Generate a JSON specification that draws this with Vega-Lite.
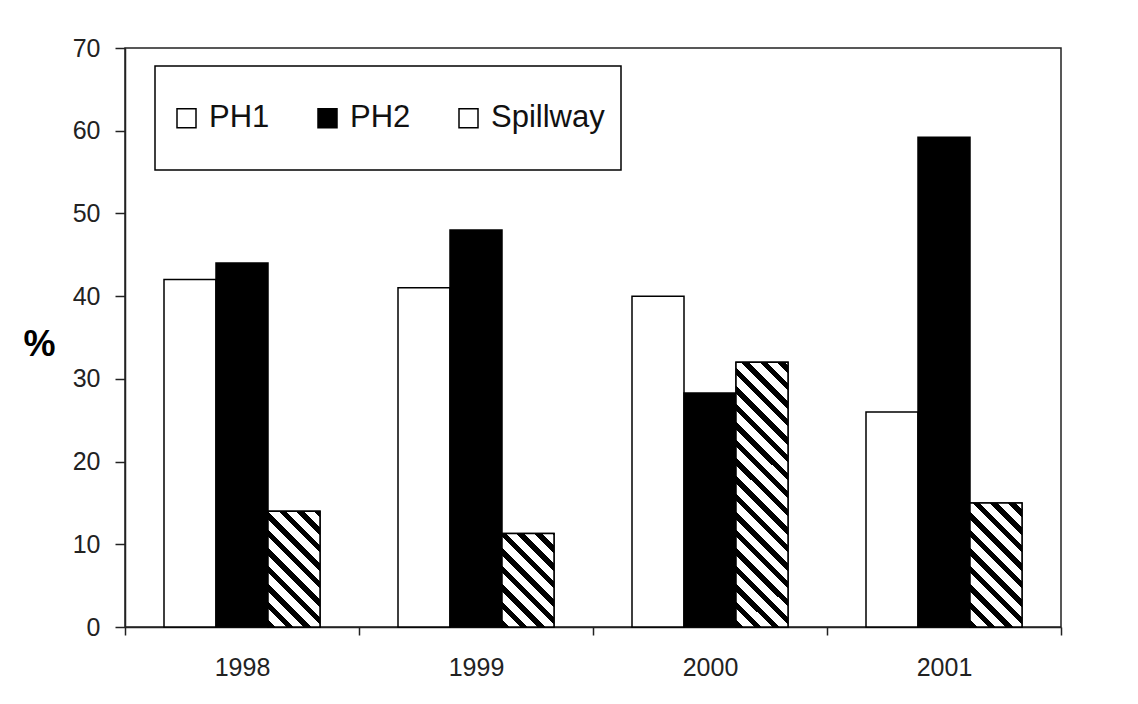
{
  "$schema": "https://vega.github.io/schema/vega-lite/v6.json",
  "width": 936,
  "height": 579,
  "autosize": "none",
  "padding": {"left": 125, "top": 48, "right": 77, "bottom": 77},
  "background": "white",
  "config": {"view": {"stroke": "#222", "strokeWidth": 1.5}, "font": "Liberation Sans"},
  "params": [
    {"name": "hatch", "value": [
      {"offset": 0, "color": "black"}, {"offset": 0.0222, "color": "black"}, {"offset": 0.0222, "color": "white"}, {"offset": 0.0556, "color": "white"},
      {"offset": 0.0556, "color": "black"}, {"offset": 0.0778, "color": "black"}, {"offset": 0.0778, "color": "white"}, {"offset": 0.1111, "color": "white"},
      {"offset": 0.1111, "color": "black"}, {"offset": 0.1333, "color": "black"}, {"offset": 0.1333, "color": "white"}, {"offset": 0.1667, "color": "white"},
      {"offset": 0.1667, "color": "black"}, {"offset": 0.1889, "color": "black"}, {"offset": 0.1889, "color": "white"}, {"offset": 0.2222, "color": "white"},
      {"offset": 0.2222, "color": "black"}, {"offset": 0.2444, "color": "black"}, {"offset": 0.2444, "color": "white"}, {"offset": 0.2778, "color": "white"},
      {"offset": 0.2778, "color": "black"}, {"offset": 0.3, "color": "black"}, {"offset": 0.3, "color": "white"}, {"offset": 0.3333, "color": "white"},
      {"offset": 0.3333, "color": "black"}, {"offset": 0.3556, "color": "black"}, {"offset": 0.3556, "color": "white"}, {"offset": 0.3889, "color": "white"},
      {"offset": 0.3889, "color": "black"}, {"offset": 0.4111, "color": "black"}, {"offset": 0.4111, "color": "white"}, {"offset": 0.4444, "color": "white"},
      {"offset": 0.4444, "color": "black"}, {"offset": 0.4667, "color": "black"}, {"offset": 0.4667, "color": "white"}, {"offset": 0.5, "color": "white"},
      {"offset": 0.5, "color": "black"}, {"offset": 0.5222, "color": "black"}, {"offset": 0.5222, "color": "white"}, {"offset": 0.5556, "color": "white"},
      {"offset": 0.5556, "color": "black"}, {"offset": 0.5778, "color": "black"}, {"offset": 0.5778, "color": "white"}, {"offset": 0.6111, "color": "white"},
      {"offset": 0.6111, "color": "black"}, {"offset": 0.6333, "color": "black"}, {"offset": 0.6333, "color": "white"}, {"offset": 0.6667, "color": "white"},
      {"offset": 0.6667, "color": "black"}, {"offset": 0.6889, "color": "black"}, {"offset": 0.6889, "color": "white"}, {"offset": 0.7222, "color": "white"},
      {"offset": 0.7222, "color": "black"}, {"offset": 0.7444, "color": "black"}, {"offset": 0.7444, "color": "white"}, {"offset": 0.7778, "color": "white"},
      {"offset": 0.7778, "color": "black"}, {"offset": 0.8, "color": "black"}, {"offset": 0.8, "color": "white"}, {"offset": 0.8333, "color": "white"},
      {"offset": 0.8333, "color": "black"}, {"offset": 0.8556, "color": "black"}, {"offset": 0.8556, "color": "white"}, {"offset": 0.8889, "color": "white"},
      {"offset": 0.8889, "color": "black"}, {"offset": 0.9111, "color": "black"}, {"offset": 0.9111, "color": "white"}, {"offset": 0.9444, "color": "white"},
      {"offset": 0.9444, "color": "black"}, {"offset": 0.9667, "color": "black"}, {"offset": 0.9667, "color": "white"}, {"offset": 1, "color": "white"}
    ]},
    {"name": "hatchL", "value": [
      {"offset": 0, "color": "black"}, {"offset": 0.12, "color": "black"}, {"offset": 0.12, "color": "white"}, {"offset": 0.405, "color": "white"},
      {"offset": 0.405, "color": "black"}, {"offset": 0.595, "color": "black"}, {"offset": 0.595, "color": "white"}, {"offset": 0.878, "color": "white"},
      {"offset": 0.878, "color": "black"}, {"offset": 1, "color": "black"}
    ]}
  ],
  "data": {"values": [
    {"year": "1998", "series": "PH1", "value": 42},
    {"year": "1998", "series": "PH2", "value": 44},
    {"year": "1998", "series": "Spillway", "value": 14},
    {"year": "1999", "series": "PH1", "value": 41},
    {"year": "1999", "series": "PH2", "value": 48},
    {"year": "1999", "series": "Spillway", "value": 11.3},
    {"year": "2000", "series": "PH1", "value": 40},
    {"year": "2000", "series": "PH2", "value": 28.3},
    {"year": "2000", "series": "Spillway", "value": 32},
    {"year": "2001", "series": "PH1", "value": 26},
    {"year": "2001", "series": "PH2", "value": 59.2},
    {"year": "2001", "series": "Spillway", "value": 15}
  ]},
  "encoding": {
    "x": {
      "field": "year", "type": "nominal",
      "scale": {"paddingInner": 0, "paddingOuter": 0},
      "axis": {"title": null, "labelAngle": 0, "tickBand": "extent", "tickSize": 8, "tickColor": "#222", "tickWidth": 1.5,
               "domainColor": "#222", "domainWidth": 1.5, "labelFontSize": 25, "labelColor": "#222", "labelPadding": 20, "labelFont": "Liberation Sans"}
    },
    "xOffset": {"field": "series", "type": "nominal", "scale": {"domain": ["PH1", "PH2", "Spillway"], "paddingInner": 0, "paddingOuter": 0.75}},
    "y": {
      "field": "value", "type": "quantitative",
      "scale": {"domain": [0, 70], "nice": false},
      "axis": {"title": "%", "values": [0, 10, 20, 30, 40, 50, 60, 70], "grid": false, "labelFontSize": 25, "labelColor": "#222",
               "labelFont": "Liberation Sans", "tickSize": 10, "tickColor": "#222", "tickWidth": 1.5, "domainColor": "#222", "domainWidth": 1.5,
               "labelPadding": 15, "titleAngle": 0, "titleX": -86, "titleY": 296, "titleAlign": "center", "titleBaseline": "middle",
               "titleFontSize": 36, "titleFontWeight": "bold", "titleColor": "black", "titleFont": "Liberation Sans"}
    }
  },
  "layer": [
    {
      "mark": {"type": "bar", "stroke": "black", "strokeWidth": 1.5},
      "encoding": {
        "fill": {
          "field": "series", "type": "nominal",
          "scale": {"domain": ["PH1", "PH2", "Spillway"], "range": ["white", "black", "white"]},
          "legend": {
            "title": null, "orient": "none", "legendX": 30, "legendY": 18, "direction": "horizontal",
            "symbolType": "square", "symbolSize": 361, "symbolStrokeColor": "black", "symbolStrokeWidth": 1.5,
            "labelFont": "Liberation Sans", "labelFontSize": 31, "labelColor": "#111", "labelOffset": 7,
            "columnPadding": 42, "padding": 16, "strokeColor": "black", "fillColor": "white",
            "labelExpr": "['', datum.label, '']",
            "encode": {
              "legend": {"update": {"strokeWidth": {"value": 1.5}}},
              "labels": {"update": {"lineHeight": {"value": 20.5}}},
              "symbols": {"update": {
                "fill": {"value": {"expr": "datum.value === 'Spillway' ? {gradient: 'linear', x1: 0, y1: 1, x2: 1, y2: 0, stops: hatchL} : (datum.value === 'PH2' ? 'black' : 'white')"}},
                "stroke": {"value": "black"},
                "strokeWidth": {"value": 1.5},
                "y": {"value": 36}
              }}
            }
          }
        }
      }
    },
    {
      "transform": [{"filter": "datum.series === 'Spillway'"}],
      "mark": {
        "type": "bar", "stroke": "black", "strokeWidth": 1.5,
        "fill": {"expr": "{gradient: 'linear', x1: 0, y1: 1, x2: datum.year === '1998' ? 1.0456 : datum.year === '1999' ? 1.4726 : datum.year === '2000' ? 0.2315 : 0.931, y2: datum.year === '1998' ? -1.3284 : datum.year === '1999' ? -1.647 : datum.year === '2000' ? -0.1786 : -1.2212, stops: hatch}"}
      }
    }
  ]
}
